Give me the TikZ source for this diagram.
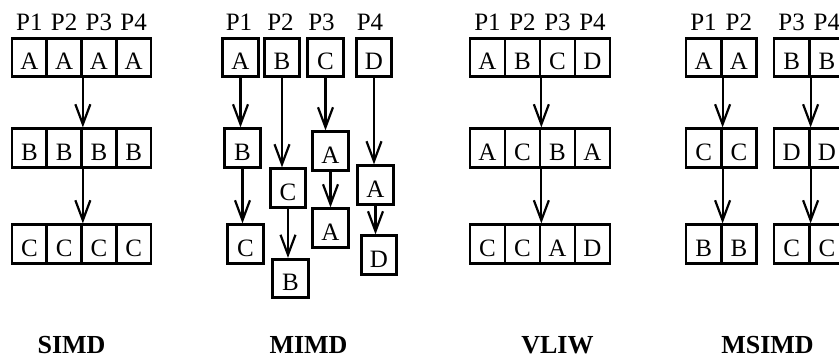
\documentclass[tikz,border=0pt]{standalone}
\usepackage{fontspec}
\setmainfont{Liberation Serif}
\usetikzlibrary{arrows.meta}
\begin{document}
\begin{tikzpicture}[x=1pt,y=-1pt,
  cell/.style={draw,line width=2.7pt,minimum width=34.75pt,minimum height=38.5pt,inner sep=0pt,text height=24pt,text depth=0pt,font=\fontsize{25}{29}\selectfont},
  mcell/.style={cell,minimum width=35.5pt},
  plab/.style={anchor=base,inner sep=0pt,font=\fontsize{25}{29}\selectfont},
  title/.style={anchor=base,inner sep=0pt,font=\fontsize{26}{30}\selectfont\bfseries},
  arr/.style={line width=2.2pt,-{Straight Barb[length=20pt,width=15pt,line width=2.2pt]}}]
\clip (0,0) rectangle (839,357);
% ---------- SIMD ----------
\foreach \l [count=\i] in {A,A,A,A} \node[cell] (s1\i) at ({12+34.75*(\i-0.5)},57.5) {\l};
\foreach \l [count=\i] in {B,B,B,B} \node[cell] (s2\i) at ({12+34.75*(\i-0.5)},148) {\l};
\foreach \l [count=\i] in {C,C,C,C} \node[cell] (s3\i) at ({12+34.75*(\i-0.5)},244) {\l};
\foreach \i in {1,2,3,4} \node[plab] (sp\i) at ({12+34.75*(\i-0.5)},30) {P\i};
\draw[arr] (s12.south east) -- (s22.north east);
\draw[arr] (s22.south east) -- (s32.north east);
\node[title] (tsimd) at (71.5,353) {SIMD};
% ---------- MIMD ----------
\node[mcell] (a1) at (240.5,57.5) {A};
\node[mcell] (a2) at (242.5,148) {B};
\node[mcell] (a3) at (245.5,244) {C};
\node[mcell] (b1) at (282,57.5) {B};
\node[mcell] (b2) at (288,188) {C};
\node[mcell] (b3) at (290.5,278.5) {B};
\node[mcell] (c1) at (325.5,57.5) {C};
\node[mcell] (c2) at (330.5,151) {A};
\node[mcell] (c3) at (330.5,228) {A};
\node[mcell] (d1) at (374,57.5) {D};
\node[mcell] (d2) at (375.5,185) {A};
\node[mcell] (d3) at (379,255) {D};
\node[plab] (mp1) at (239,30) {P1};
\node[plab] (mp2) at (280.5,30) {P2};
\node[plab] (mp3) at (321.5,30) {P3};
\node[plab] (mp4) at (370,30) {P4};
\draw[arr] (a1.south) -- (a1.south |- a2.north);
\draw[arr] (a2.south) -- (a2.south |- a3.north);
\draw[arr] (b1.south) -- (b1.south |- b2.north);
\draw[arr] (b2.south) -- (b2.south |- b3.north);
\draw[arr] (c1.south) -- (c1.south |- c2.north);
\draw[arr] (c2.south) -- (c2.south |- c3.north);
\draw[arr] (d1.south) -- (d1.south |- d2.north);
\draw[arr] (d2.south) -- (d2.south |- d3.north);
\node[title] (tmimd) at (308.5,353) {MIMD};
% ---------- VLIW ----------
\foreach \l [count=\i] in {A,B,C,D} \node[cell,minimum width=35pt] (v1\i) at ({470+35*(\i-0.5)},57.5) {\l};
\foreach \l [count=\i] in {A,C,B,A} \node[cell,minimum width=35pt] (v2\i) at ({470+35*(\i-0.5)},148) {\l};
\foreach \l [count=\i] in {C,C,A,D} \node[cell,minimum width=35pt] (v3\i) at ({470+35*(\i-0.5)},244) {\l};
\foreach \i in {1,2,3,4} \node[plab] (vp\i) at ({470+35*(\i-0.5)},30) {P\i};
\draw[arr] (v12.south east) -- (v22.north east);
\draw[arr] (v22.south east) -- (v32.north east);
\node[title] (tvliw) at (557.5,353) {VLIW};
% ---------- MSIMD ----------
\foreach \l [count=\i] in {A,A} \node[cell,minimum width=35.25pt] (m1\i) at ({686+35.25*(\i-0.5)},57.5) {\l};
\foreach \l [count=\i] in {C,C} \node[cell,minimum width=35.25pt] (m2\i) at ({686+35.25*(\i-0.5)},148) {\l};
\foreach \l [count=\i] in {B,B} \node[cell,minimum width=35.25pt] (m3\i) at ({686+35.25*(\i-0.5)},244) {\l};
\foreach \l [count=\i] in {B,B} \node[cell,minimum width=35.25pt] (n1\i) at ({774+35.25*(\i-0.5)},57.5) {\l};
\foreach \l [count=\i] in {D,D} \node[cell,minimum width=35.25pt] (n2\i) at ({774+35.25*(\i-0.5)},148) {\l};
\foreach \l [count=\i] in {C,C} \node[cell,minimum width=35.25pt] (n3\i) at ({774+35.25*(\i-0.5)},244) {\l};
\node[plab] (qp1) at (703.5,30) {P1};
\node[plab] (qp2) at (738.8,30) {P2};
\node[plab] (qp3) at (791.6,30) {P3};
\node[plab] (qp4) at (826.9,30) {P4};
\draw[arr] (m11.south east) -- (m21.north east);
\draw[arr] (m21.south east) -- (m31.north east);
\draw[arr] (n11.south east) -- (n21.north east);
\draw[arr] (n21.south east) -- (n31.north east);
\node[title] (tmsimd) at (767.5,353) {MSIMD};
\end{tikzpicture}
\end{document}
